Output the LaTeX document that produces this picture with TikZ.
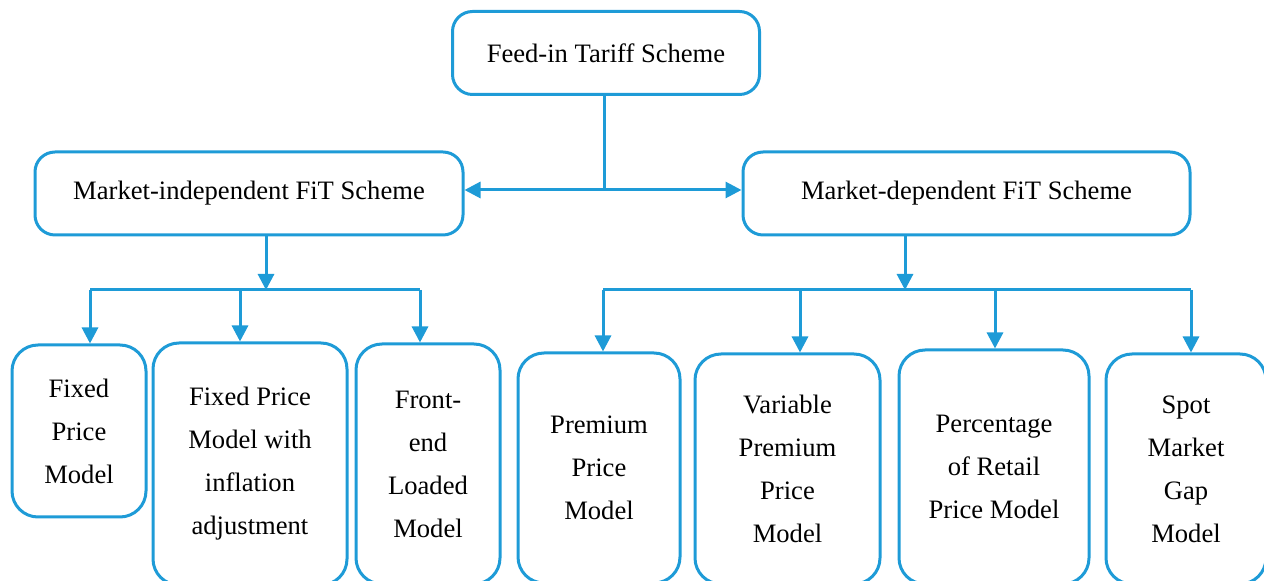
\documentclass[tikz,border=0pt]{standalone}
\usepackage{fontspec}
\setmainfont{Liberation Serif}
\usetikzlibrary{arrows.meta, positioning}
\definecolor{fitblue}{RGB}{30,155,215}

\begin{document}
\begin{tikzpicture}[x=0.5pt, y=-0.5pt,
  >={Triangle[length=8pt, width=8pt]},
  box/.style={draw=fitblue, line width=1.5pt, rounded corners=10pt, align=center,
    inner sep=0pt, font=\fontsize{13.3}{21.5}\selectfont},
  model/.style={box, rounded corners=13pt},
  link/.style={color=fitblue, line width=1.5pt}]
  \useasboundingbox (0,0) rectangle (1264,581);
  \clip (0,0) rectangle (1264,581);
  % top level
  \node[box, minimum width=153.5pt, minimum height=41.5pt] (fit) at (606,53) {Feed-in Tariff Scheme};
  % two branches
  \node[box, minimum width=214pt, minimum height=41.5pt] (indep) at (249,193.5) {Market-independent FiT Scheme};
  \node[box, minimum width=223.5pt, minimum height=41.5pt] (dep) at (966.5,193.5) {Market-dependent FiT Scheme};
  % market-independent models
  \node[model, minimum width=67pt, minimum height=86pt] (fixed) at (79,431) {Fixed\\Price\\Model};
  \node[model, minimum width=97pt, minimum height=121pt] (infl) at (250,464) {Fixed Price\\Model with\\inflation\\adjustment};
  \node[model, minimum width=72pt, minimum height=120pt] (front) at (428,464) {Front-\\end\\Loaded\\Model};
  % market-dependent models
  \node[model, minimum width=81pt, minimum height=115pt] (prem) at (599,468) {Premium\\Price\\Model};
  \node[model, minimum width=92.5pt, minimum height=115pt] (var) at (787.5,469) {Variable\\Premium\\Price\\Model};
  \node[model, minimum width=95pt, minimum height=117pt] (pct) at (994,467) {Percentage\\of Retail\\Price Model};
  \node[model, minimum width=80pt, minimum height=115pt] (spot) at (1186,469) {Spot\\Market\\Gap\\Model};
  % split below the top box
  \coordinate (hub) at (604,190);
  \draw[link] (fit.south -| hub) -- (hub);
  \draw[link, ->] (hub) -- (hub -| indep.east);
  \draw[link, ->] (hub) -- (hub -| dep.west);
  % left bus
  \coordinate (lbus) at (266,290);
  \coordinate (d1) at (90,290);
  \coordinate (d2) at (240,290);
  \coordinate (d3) at (420,290);
  \draw[link, ->] (indep.south -| lbus) -- (lbus);
  \draw[link] (d1) -- (d3);
  \foreach \d/\n in {d1/fixed, d2/infl, d3/front}
    \draw[link, ->] (\d) -- (\d |- \n.north);
  % right bus
  \coordinate (rbus) at (905,290);
  \coordinate (e1) at (603,290);
  \coordinate (e2) at (800,290);
  \coordinate (e3) at (995,290);
  \coordinate (e4) at (1191,290);
  \draw[link, ->] (dep.south -| rbus) -- (rbus);
  \draw[link] (e1) -- (e4);
  \foreach \e/\n in {e1/prem, e2/var, e3/pct, e4/spot}
    \draw[link, ->] (\e) -- (\e |- \n.north);
\end{tikzpicture}
\end{document}
